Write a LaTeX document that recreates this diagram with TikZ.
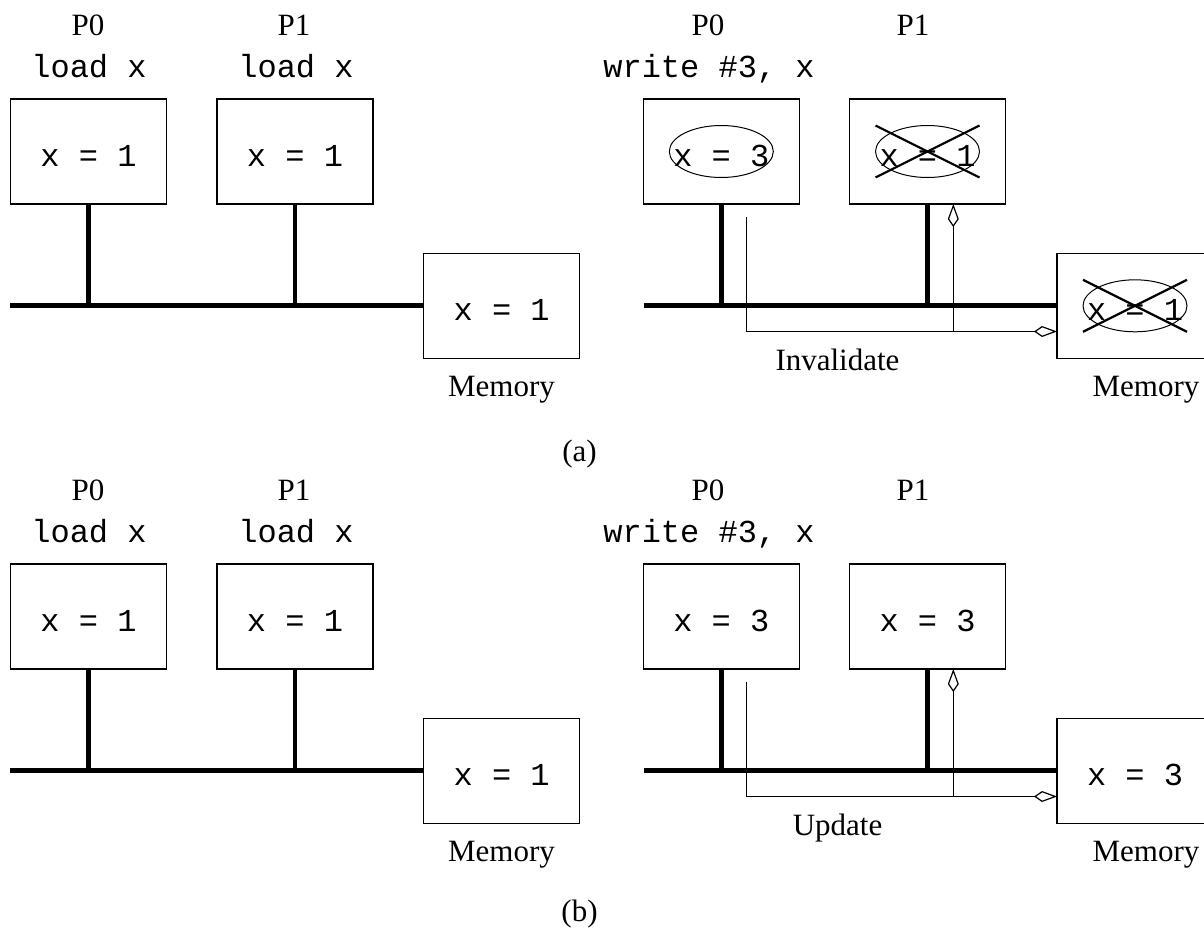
\documentclass[tikz,border=0pt]{standalone}
\usepackage{fontspec}
\setmainfont{Liberation Serif}
\setmonofont{Liberation Mono}
\usetikzlibrary{arrows.meta,shapes.geometric,calc}

\begin{document}
\begin{tikzpicture}[x=0.5pt,y=-0.5pt,
  every node/.style={inner sep=0pt,outer sep=0pt},
  cpu/.style={draw,line width=0.6pt,minimum width=78pt,minimum height=52.5pt,
    font=\ttfamily\fontsize{16}{19}\selectfont,text height=15pt,text depth=0pt},
  oval/.style={draw,ellipse,line width=0.5pt,minimum width=52pt,minimum height=26pt},
  plabel/.style={font=\fontsize{15.5}{18}\selectfont,anchor=base},
  instr/.style={font=\ttfamily\fontsize{16}{19}\selectfont,anchor=base},
  bus/.style={line width=2.4pt},
  sig/.style={line width=0.6pt,-{Kite[open,length=11.5pt,width=5.5pt,inset=4pt]}},
  strike/.style={line width=1.1pt}]
\path[use as bounding box,clip] (0,0) rectangle (1204,932);

% (a) write-invalidate
\node[plabel] (ap0) at (88,35) {P0};
\node[plabel] (ap1) at (294,35) {P1};
\node[instr] (ai0) at (89,77) {load x};
\node[instr] (ai1) at (296,77) {load x};
\node[cpu] (ac0) at (88.5,151.5) {x = 1};
\node[cpu] (ac1) at (295,151.5) {x = 1};
\node[cpu] (amem) at (501.7,305.8) {x = 1};
\node[plabel] (amlab) at (501.5,396.7) {Memory};
\coordinate (abus) at (10.3,305.8);
\draw[bus] (abus) -- (amem.west);
\draw[bus] (ac0.south) -- (ac0.south |- abus);
\draw[bus] (ac1.south) -- (ac1.south |- abus);

\node[plabel] (aq0) at (708,35) {P0};
\node[plabel] (aq1) at (913,35) {P1};
\node[instr] (aw0) at (709,77) {write \#3, x};
\node[cpu] (ad0) at (721.3,151.5) {x = 3};
\node[cpu] (ad1) at (927.5,151.5) {x = 1};
\node[cpu] (anew) at (1135,305.8) {x = 1};
\node[plabel] (anlab) at (1146,396.7) {Memory};
\coordinate (adbus) at (643.7,305.8);
\draw[bus] (adbus) -- (anew.west);
\draw[bus] (ad0.south) -- (ad0.south |- adbus);
\draw[bus] (ad1.south) -- (ad1.south |- adbus);

\node[oval] (ae0) at (ad0) {};
\node[oval] (ae1) at (ad1) {};
\node[oval] (ae2) at (anew) {};
\draw[strike] (ae1.west |- ae1.north) -- (ae1.east |- ae1.south);
\draw[strike] (ae1.west |- ae1.south) -- (ae1.east |- ae1.north);
\draw[strike] (ae2.west |- ae2.north) -- (ae2.east |- ae2.south);
\draw[strike] (ae2.west |- ae2.south) -- (ae2.east |- ae2.north);

\coordinate (asrc) at (746.7,216.7);
\coordinate (ajoin) at (953.3,331.5);
\draw[sig] (asrc) |- (anew.west |- ajoin);
\draw[sig] (ajoin) -- (ajoin |- ad1.south);
\node[plabel] (ainv) at (837.5,370) {Invalidate};

\node[plabel] (acap) at (579.5,461.4) {(a)};

% (b) write-update
\begin{scope}[shift={(0,465)}]
\node[plabel] (bp0) at (88,35) {P0};
\node[plabel] (bp1) at (294,35) {P1};
\node[instr] (bi0) at (89,77) {load x};
\node[instr] (bi1) at (296,77) {load x};
\node[cpu] (bc0) at (88.5,151.5) {x = 1};
\node[cpu] (bc1) at (295,151.5) {x = 1};
\node[cpu] (bmem) at (501.7,305.8) {x = 1};
\node[plabel] (bmlab) at (501.5,396.7) {Memory};
\coordinate (bbus) at (10.3,305.8);
\draw[bus] (bbus) -- (bmem.west);
\draw[bus] (bc0.south) -- (bc0.south |- bbus);
\draw[bus] (bc1.south) -- (bc1.south |- bbus);

\node[plabel] (bq0) at (708,35) {P0};
\node[plabel] (bq1) at (913,35) {P1};
\node[instr] (bw0) at (709,77) {write \#3, x};
\node[cpu] (bd0) at (721.3,151.5) {x = 3};
\node[cpu] (bd1) at (927.5,151.5) {x = 3};
\node[cpu] (bnew) at (1135,305.8) {x = 3};
\node[plabel] (bnlab) at (1146,396.7) {Memory};
\coordinate (bdbus) at (643.7,305.8);
\draw[bus] (bdbus) -- (bnew.west);
\draw[bus] (bd0.south) -- (bd0.south |- bdbus);
\draw[bus] (bd1.south) -- (bd1.south |- bdbus);

\coordinate (bsrc) at (746.7,216.7);
\coordinate (bjoin) at (953.3,331.5);
\draw[sig] (bsrc) |- (bnew.west |- bjoin);
\draw[sig] (bjoin) -- (bjoin |- bd1.south);
\node[plabel] (bupd) at (837.5,370) {Update};

\node[plabel] (bcap) at (579.5,456.5) {(b)};
\end{scope}
\end{tikzpicture}
\end{document}
